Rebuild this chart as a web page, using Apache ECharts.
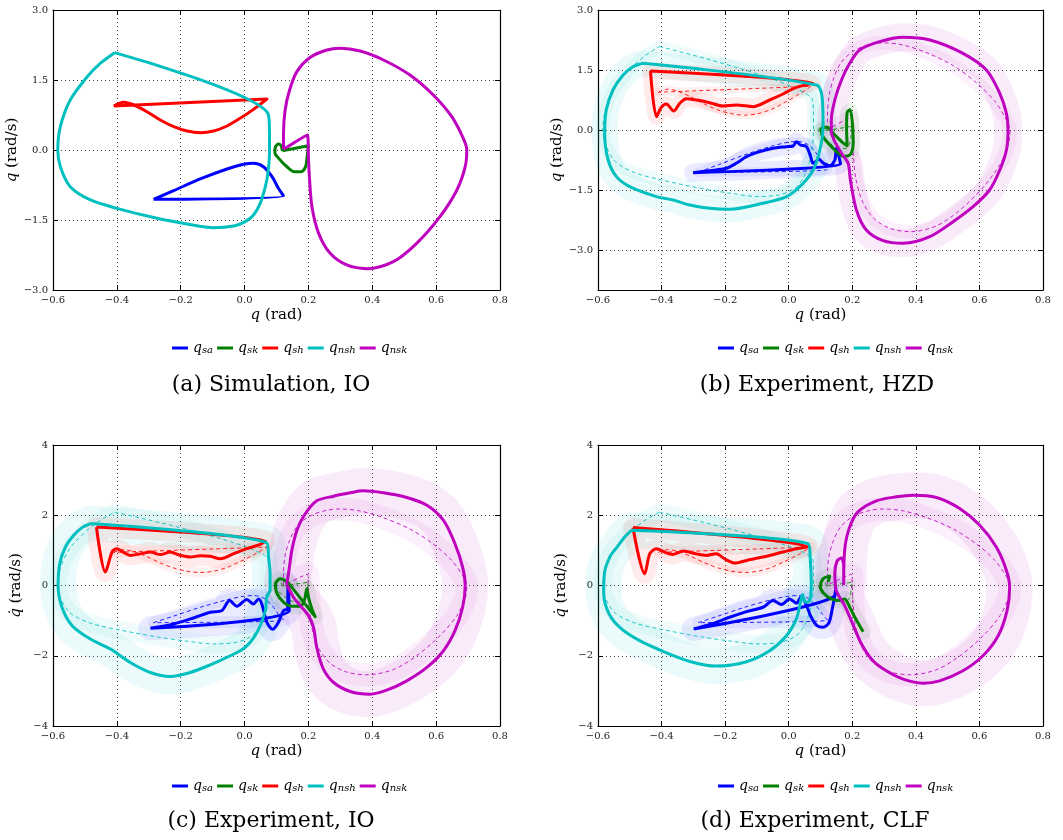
<!DOCTYPE html>
<html>
<head>
<meta charset="utf-8">
<script src="https://cdn.jsdelivr.net/npm/echarts@6/dist/echarts.min.js"></script>
<style>
  html, body { margin: 0; padding: 0; background: #fff; }
  #chart { width: 1063px; height: 840px; }
</style>
</head>
<body>
<div id="chart"></div>
<script>
// Joint phase portraits (q, q-dot) for stance ankle, stance knee, stance hip,
// non-stance hip and non-stance knee.

// ---- Simulation orbit (IO controller) ----
const simSa = [[-0.285,-1.057],[-0.222,-0.871],[-0.139,-0.621],[-0.055,-0.407],[-0.003,-0.307],[0.028,-0.286],[0.059,-0.357],[0.086,-0.571],[0.106,-0.821],[0.122,-0.986],[-0.285,-1.057]];
const simSk = [[0.118,-0.014],[0.2,0.093],[0.196,-0.143],[0.191,-0.357],[0.177,-0.464],[0.156,-0.464],[0.130,-0.343],[0.107,-0.179],[0.095,-0.057],[0.097,0.071],[0.107,0.129],[0.115,0.086],[0.118,-0.014]];
const simSh = [[-0.410,0.943],[-0.379,1.021],[-0.347,0.964],[-0.306,0.821],[-0.264,0.643],[-0.222,0.5],[-0.180,0.407],[-0.139,0.371],[-0.097,0.407],[-0.055,0.514],[-0.014,0.679],[0.028,0.871],[0.070,1.093],[-0.410,0.943]];
const simNsh = [[-0.407,2.086],[0.073,0.786],[0.078,0.357],[0.078,-0.071],[0.073,-0.5],[0.065,-0.786],[0.049,-1.143],[0.028,-1.393],[0.002,-1.536],[-0.034,-1.629],[-0.097,-1.664],[-0.180,-1.586],[-0.274,-1.464],[-0.400,-1.25],[-0.483,-1.071],[-0.546,-0.786],[-0.577,-0.357],[-0.585,0],[-0.577,0.5],[-0.546,1.071],[-0.493,1.571],[-0.452,1.857],[-0.407,2.086]];
const simNsk = [[0.122,0.014],[0.122,0.357],[0.127,0.857],[0.141,1.286],[0.164,1.679],[0.206,1.986],[0.258,2.143],[0.299,2.179],[0.362,2.121],[0.435,1.929],[0.518,1.607],[0.591,1.179],[0.649,0.714],[0.685,0.25],[0.696,0],[0.691,-0.357],[0.665,-0.857],[0.612,-1.429],[0.539,-2.0],[0.466,-2.393],[0.383,-2.543],[0.320,-2.464],[0.268,-2.214],[0.232,-1.786],[0.211,-1.214],[0.203,-0.571],[0.2,-0.143],[0.197,0.321],[0.122,0.014]];

// ---- Experiment, HZD controller ----
const hzdSa = [[-0.301,-1.067],[-0.249,-1.017],[-0.196,-0.958],[-0.165,-0.833],[-0.133,-0.667],[-0.091,-0.542],[-0.049,-0.458],[-0.007,-0.417],[0.014,-0.4],[0.024,-0.292],[0.037,-0.375],[0.056,-0.417],[0.069,-0.667],[0.077,-0.833],[0.095,-0.733],[0.110,-0.833],[0.129,-0.892],[0.145,-0.75],[0.150,-0.458],[0.158,-0.667],[0.163,-0.858],[-0.301,-1.067]];
const hzdSk = [[0.116,0.067],[0.102,0.025],[0.106,-0.142],[0.127,-0.35],[0.153,-0.558],[0.174,-0.658],[0.195,-0.6],[0.203,-0.308],[0.2,0.192],[0.193,0.508],[0.184,0.442],[0.182,0.025],[0.184,-0.392],[0.169,-0.308],[0.142,-0.1],[0.121,0.067],[0.116,0.067]];
const hzdSh = [[-0.435,1.475],[-0.416,0.333],[-0.401,0.567],[-0.385,0.65],[-0.362,0.475],[-0.343,0.667],[-0.322,0.783],[-0.290,0.75],[-0.249,0.683],[-0.207,0.6],[-0.165,0.625],[-0.112,0.583],[-0.060,0.75],[-0.018,0.9],[0.024,1.067],[0.077,1.167],[-0.435,1.475]];
const hzdNsh = [[-0.458,1.667],[0.087,1.125],[0.106,0.75],[0.108,0.083],[0.098,-0.5],[0.077,-1.0],[0.040,-1.375],[-0.007,-1.667],[-0.081,-1.833],[-0.186,-1.983],[-0.249,-1.958],[-0.311,-1.875],[-0.364,-1.75],[-0.416,-1.667],[-0.500,-1.417],[-0.542,-1.167],[-0.568,-0.75],[-0.579,-0.083],[-0.574,0.5],[-0.553,1.0],[-0.521,1.375],[-0.490,1.583],[-0.458,1.667]];
const hzdNsk = [[0.134,-0.083],[0.134,0.25],[0.145,0.75],[0.166,1.25],[0.192,1.667],[0.223,2.0],[0.286,2.208],[0.360,2.317],[0.444,2.25],[0.548,1.917],[0.622,1.5],[0.664,0.917],[0.685,0.417],[0.690,0],[0.685,-0.5],[0.664,-1.0],[0.632,-1.5],[0.580,-1.917],[0.517,-2.292],[0.444,-2.667],[0.360,-2.833],[0.297,-2.767],[0.244,-2.5],[0.213,-2.0],[0.194,-1.25],[0.187,-0.833],[0.166,-0.583],[0.145,-0.292],[0.134,-0.083]];

// ---- Experiment, IO controller ----
const ioSa = [[-0.295,-1.219],[-0.222,-1.095],[-0.160,-0.924],[-0.107,-0.762],[-0.071,-0.714],[-0.047,-0.429],[-0.024,-0.590],[0.007,-0.400],[0.028,-0.524],[0.044,-0.381],[0.054,-0.524],[0.070,-1.048],[0.088,-1.248],[0.106,-1.048],[0.122,-0.714],[0.135,-0.667],[0.136,0.048],[0.140,-0.714],[-0.295,-1.219]];
const ioSk = [[0.135,0.095],[0.112,0.190],[0.097,0.048],[0.101,-0.219],[0.122,-0.476],[0.148,-0.590],[0.174,-0.590],[0.187,-0.429],[0.195,-0.095],[0.200,-0.333],[0.211,-0.667],[0.221,-0.886],[0.135,0.095]];
const ioSh = [[-0.464,1.667],[-0.436,0.381],[-0.415,0.952],[-0.400,1.048],[-0.380,0.95],[-0.358,0.857],[-0.327,0.9],[-0.295,0.952],[-0.264,0.88],[-0.233,0.952],[-0.202,0.86],[-0.170,0.810],[-0.139,0.85],[-0.107,0.83],[-0.076,0.762],[-0.034,0.905],[0.007,1.048],[0.049,1.171],[0.065,1.267],[-0.464,1.667]];
const ioNsh = [[-0.483,1.762],[0.070,1.210],[0.075,0.810],[0.080,0.333],[0.080,-0.143],[0.070,-0.286],[0.065,-0.714],[0.039,-1.333],[0.002,-1.762],[-0.045,-2.0],[-0.107,-2.257],[-0.170,-2.476],[-0.233,-2.590],[-0.295,-2.476],[-0.358,-2.190],[-0.420,-1.810],[-0.483,-1.524],[-0.540,-1.143],[-0.572,-0.619],[-0.584,0],[-0.579,0.619],[-0.561,1.095],[-0.535,1.429],[-0.509,1.648],[-0.483,1.762]];
const ioNsk = [[0.132,0.029],[0.139,0.429],[0.148,1.0],[0.164,1.571],[0.187,2.0],[0.226,2.410],[0.279,2.543],[0.331,2.638],[0.372,2.695],[0.435,2.638],[0.508,2.505],[0.571,2.286],[0.623,1.857],[0.659,1.190],[0.683,0.524],[0.691,0],[0.683,-0.619],[0.659,-1.286],[0.623,-1.857],[0.571,-2.333],[0.508,-2.714],[0.445,-2.981],[0.393,-3.095],[0.331,-3.019],[0.279,-2.762],[0.247,-2.381],[0.226,-1.762],[0.216,-1.190],[0.200,-0.857],[0.174,-0.571],[0.153,-0.333],[0.132,0.029]];

// ---- Experiment, CLF controller ----
const clfSa = [[-0.299,-1.238],[-0.243,-1.095],[-0.186,-0.905],[-0.133,-0.743],[-0.081,-0.619],[-0.049,-0.429],[-0.023,-0.543],[0.003,-0.381],[0.024,-0.505],[0.040,-0.314],[0.056,-0.571],[0.071,-0.905],[0.089,-1.143],[0.108,-1.190],[0.127,-1.048],[0.137,-0.667],[0.145,-0.286],[0.148,-0.048],[0.145,-0.3],[-0.299,-1.238]];
const clfSk = [[0.124,0.095],[0.129,0.267],[0.108,0.190],[0.100,-0.048],[0.110,-0.219],[0.134,-0.381],[0.160,-0.429],[0.176,-0.381],[0.192,-0.619],[0.208,-0.905],[0.223,-1.143],[0.234,-1.314]];
const clfSh = [[-0.490,1.648],[-0.453,0.333],[-0.437,0.905],[-0.416,1.048],[-0.385,0.93],[-0.364,0.886],[-0.332,0.981],[-0.290,0.9],[-0.259,0.857],[-0.228,0.905],[-0.200,0.75],[-0.170,0.638],[-0.133,0.714],[-0.081,0.810],[-0.018,0.952],[0.024,1.048],[0.061,1.095],[-0.490,1.648]];
const clfNsh = [[-0.495,1.571],[0.061,1.190],[0.068,0.714],[0.071,0.048],[0.066,-0.429],[0.053,-0.476],[0.043,-0.257],[0.037,-0.476],[0.024,-0.952],[-0.007,-1.429],[-0.060,-1.857],[-0.133,-2.171],[-0.228,-2.295],[-0.311,-2.162],[-0.395,-1.876],[-0.469,-1.571],[-0.526,-1.238],[-0.565,-0.810],[-0.582,-0.238],[-0.580,0.333],[-0.563,0.810],[-0.540,1.095],[-0.516,1.381],[-0.495,1.571]];
const clfNsk = [[0.148,-0.124],[0.145,0.333],[0.152,0.695],[0.166,0.781],[0.173,0.524],[0.173,0.048],[0.176,1.0],[0.190,1.619],[0.218,2.095],[0.276,2.410],[0.339,2.524],[0.391,2.571],[0.465,2.505],[0.538,2.190],[0.601,1.714],[0.653,1.095],[0.685,0.429],[0.695,-0.048],[0.687,-0.714],[0.659,-1.429],[0.611,-2.0],[0.548,-2.429],[0.475,-2.714],[0.423,-2.781],[0.360,-2.667],[0.307,-2.429],[0.265,-2.143],[0.229,-1.667],[0.197,-1.0],[0.176,-0.571],[0.160,-0.333],[0.148,-0.124]];

// ---- Axes and labels ----
const xTicks = [-0.6, -0.4, -0.2, 0.0, 0.2, 0.4, 0.6, 0.8];
const yTicksTop = [-3.0, -1.5, 0.0, 1.5, 3.0];
const yTicksBottom = [-4, -2, 0, 2, 4];
const jointNames = ['q_sa', 'q_sk', 'q_sh', 'q_nsh', 'q_nsk'];
const jointSubs = ['sa', 'sk', 'sh', 'nsh', 'nsk'];
const jointColors = ['#0000ff', '#008000', '#ff0000', '#00bfbf', '#bf00bf'];
const captions = ['(a) Simulation, IO', '(b) Experiment, HZD', '(c) Experiment, IO', '(d) Experiment, CLF'];

const SERIF = 'DejaVu Serif';
const minus = s => s.replace('-', '\u2212');

// stroke widths (px) of the light step-to-step spread drawn around each joint orbit
const spreadB = [18, 14, 16, 26, 28];
const spreadCD = [24, 16, 20, 36, 46];

const panels = [
  { grid: { left: 53, top: 10, width: 447, height: 280 }, yMin: -3, yMax: 3, yTicks: yTicksTop, dec: 1, dot: false,
    solid: [simSa, simSk, simSh, simNsh, simNsk], ref: null, spread: null, legend: [167, 336], cap: [271, 385] },
  { grid: { left: 598, top: 10, width: 445, height: 280 }, yMin: -4, yMax: 3, yTicks: yTicksTop, dec: 1, dot: false,
    solid: [hzdSa, hzdSk, hzdSh, hzdNsh, hzdNsk], ref: [simSa, simSk, simSh, simNsh, simNsk], spread: spreadB, legend: [713, 336], cap: [817, 385] },
  { grid: { left: 53, top: 445, width: 447, height: 281 }, yMin: -4, yMax: 4, yTicks: yTicksBottom, dec: 0, dot: true,
    solid: [ioSa, ioSk, ioSh, ioNsh, ioNsk], ref: [simSa, simSk, simSh, simNsh, simNsk], spread: spreadCD, legend: [167, 774], cap: [271, 821] },
  { grid: { left: 598, top: 445, width: 445, height: 281 }, yMin: -4, yMax: 4, yTicks: yTicksBottom, dec: 0, dot: true,
    solid: [clfSa, clfSk, clfSh, clfNsh, clfNsk], ref: [simSa, simSk, simSh, simNsh, simNsk], spread: spreadCD, legend: [713, 774], cap: [815, 821] }
];

const grids = [], xAxes = [], yAxes = [], series = [], legends = [], texts = [];

const frameTick = { show: true, inside: true, length: 5, lineStyle: { color: '#000', width: 1 } };
const frameLine = { show: true, onZero: false, lineStyle: { color: '#000', width: 1.2 } };
const gridLine = { show: true, lineStyle: { color: '#444', type: [1, 3], width: 1 } };
const SMOOTH = 0.3;

panels.forEach((p, i) => {
  grids.push(p.grid);
  // bottom x axis with labels and name
  xAxes.push({
    type: 'value', gridIndex: i, min: -0.6, max: 0.8, position: 'bottom',
    axisLine: frameLine, axisTick: Object.assign({ customValues: xTicks }, frameTick),
    axisLabel: { customValues: xTicks, color: '#222', fontFamily: SERIF, fontSize: 10, margin: 5,
      formatter: v => minus(v.toFixed(1)) },
    splitLine: gridLine,
    name: '{i|q} (rad)', nameLocation: 'middle', nameGap: 18,
    nameTextStyle: { color: '#000', fontFamily: SERIF, fontSize: 15,
      rich: { i: { fontStyle: 'italic', fontFamily: SERIF, fontSize: 15, color: '#000' } } }
  });
  // top frame axis
  xAxes.push({
    type: 'value', gridIndex: i, min: -0.6, max: 0.8, position: 'top',
    axisLine: frameLine, axisTick: Object.assign({ customValues: xTicks }, frameTick),
    axisLabel: { show: false }, splitLine: { show: false }
  });
  const yName = (p.dot ? '{i|q\u0307}' : '{i|q}') + ' (rad/s)';
  yAxes.push({
    type: 'value', gridIndex: i, min: p.yMin, max: p.yMax, position: 'left',
    axisLine: frameLine, axisTick: Object.assign({ customValues: p.yTicks }, frameTick),
    axisLabel: { customValues: p.yTicks, color: '#222', fontFamily: SERIF, fontSize: 10, margin: 5,
      formatter: v => minus(v.toFixed(p.dec)) },
    splitLine: gridLine,
    name: yName, nameLocation: 'middle', nameGap: 29,
    nameTextStyle: { color: '#000', fontFamily: SERIF, fontSize: 15,
      rich: { i: { fontStyle: 'italic', fontFamily: SERIF, fontSize: 15, color: '#000' } } }
  });
  yAxes.push({
    type: 'value', gridIndex: i, min: p.yMin, max: p.yMax, position: 'right',
    axisLine: frameLine, axisTick: Object.assign({ customValues: p.yTicks }, frameTick),
    axisLabel: { show: false }, splitLine: { show: false }
  });

  const xi = 2 * i, yi = 2 * i;

  // light spread of the recorded steps around the mean orbit
  if (p.ref) {
    p.solid.forEach((d, k) => {
      series.push({ type: 'line', name: 'spread ' + jointSubs[k] + ' ' + i, xAxisIndex: xi, yAxisIndex: yi,
        data: d, showSymbol: false, silent: true, z: 1, smooth: SMOOTH,
        lineStyle: { color: jointColors[k], width: p.spread[k], opacity: 0.08, join: 'round', cap: 'round' } });
      series.push({ type: 'line', name: 'spread ref ' + jointSubs[k] + ' ' + i, xAxisIndex: xi, yAxisIndex: yi,
        data: p.ref[k], showSymbol: false, silent: true, z: 1, smooth: SMOOTH,
        lineStyle: { color: jointColors[k], width: p.spread[k] * 0.5, opacity: 0.06, join: 'round', cap: 'round' } });
    });
    // dashed simulated reference orbit
    p.ref.forEach((d, k) => {
      series.push({ type: 'line', name: 'ref ' + jointSubs[k] + ' ' + i, xAxisIndex: xi, yAxisIndex: yi,
        data: d, showSymbol: false, silent: true, z: 2, smooth: SMOOTH,
        lineStyle: { color: jointColors[k], width: 1, type: [4, 3], opacity: 0.85 } });
    });
  }
  // mean orbit
  p.solid.forEach((d, k) => {
    series.push({ type: 'line', name: jointNames[k], xAxisIndex: xi, yAxisIndex: yi,
      data: d, showSymbol: false, z: 3, smooth: SMOOTH,
      lineStyle: { color: jointColors[k], width: 3, join: 'round' }, itemStyle: { color: jointColors[k] } });
  });

  legends.push({
    data: jointNames, left: p.legend[0], top: p.legend[1], icon: 'rect',
    itemWidth: 16, itemHeight: 3, itemGap: 4, selectedMode: false,
    formatter: name => '{q|q}{s|' + jointSubs[jointNames.indexOf(name)] + '}',
    textStyle: { color: '#000', fontFamily: SERIF,
      rich: {
        q: { fontFamily: SERIF, fontStyle: 'italic', fontSize: 14, color: '#000', verticalAlign: 'bottom' },
        s: { fontFamily: SERIF, fontStyle: 'italic', fontSize: 10, color: '#000', lineHeight: 6, verticalAlign: 'bottom' }
      } }
  });

  texts.push({ type: 'text', x: p.cap[0], y: p.cap[1],
    style: { text: captions[i], fontFamily: SERIF, fontSize: 22, fill: '#000', align: 'center', verticalAlign: 'middle' } });
});

const chart = echarts.init(document.getElementById('chart'), null, { renderer: 'canvas' });
chart.setOption({
  animation: false,
  backgroundColor: '#fff',
  grid: grids,
  xAxis: xAxes,
  yAxis: yAxes,
  legend: legends,
  graphic: texts,
  series: series
});
</script>
</body>
</html>
